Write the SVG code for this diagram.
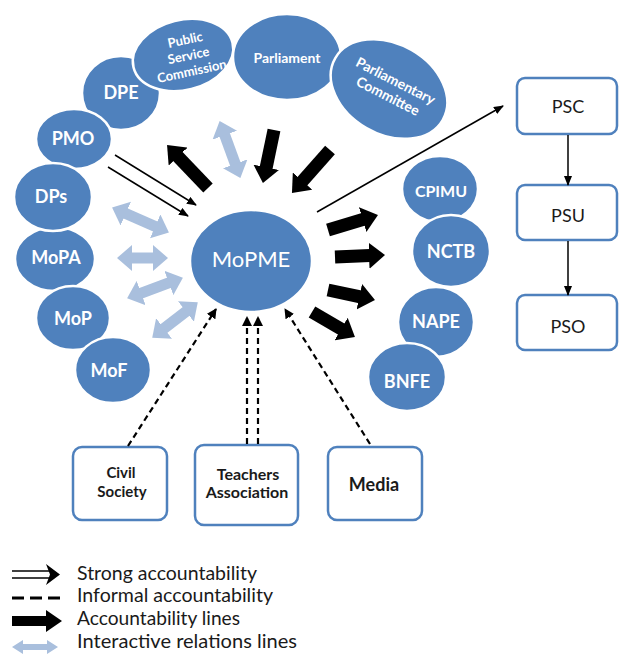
<svg xmlns="http://www.w3.org/2000/svg" width="619" height="657" viewBox="0 0 619 657">
<style>
.c{fill:#4f81bd;stroke:#ffffff;stroke-width:2.5}
.lb{font-family:Lato,"Open Sans","Liberation Sans",sans-serif;font-weight:700;fill:#ffffff;text-anchor:middle}
.bx{fill:#ffffff;stroke:#4f81bd;stroke-width:2.5}
.bt{font-family:Lato,"Open Sans","Liberation Sans",sans-serif;fill:#1a1a1a;text-anchor:middle}
.thick{stroke:#000;stroke-width:13;marker-end:url(#hB)}
.light{stroke:#a9bfdd;stroke-width:11;marker-start:url(#hL);marker-end:url(#hL)}
.thin{stroke:#000;stroke-width:1.5;marker-end:url(#hT)}
.dash{stroke:#000;stroke-width:2.2;stroke-dasharray:6 4;marker-end:url(#hD)}
.lg{font-family:Lato,"Open Sans","Liberation Sans",sans-serif;font-size:20px;fill:#1a1a1a}
</style>
<defs>
<marker id="hB" markerUnits="userSpaceOnUse" markerWidth="16" markerHeight="26" viewBox="0 0 16 26" refX="1" refY="13" orient="auto"><path d="M0,0 L16,13 L0,26 Z" fill="#000"/></marker>
<marker id="hL" markerUnits="userSpaceOnUse" markerWidth="15" markerHeight="26" viewBox="0 0 15 26" refX="2" refY="13" orient="auto-start-reverse"><path d="M0,0 L15,13 L0,26 Z" fill="#a9bfdd"/></marker>
<marker id="hT" markerUnits="userSpaceOnUse" markerWidth="10" markerHeight="8" viewBox="0 0 10 8" refX="9" refY="4" orient="auto"><path d="M0,0 L10,4 L0,8 Z" fill="#000"/></marker>
<marker id="hD" markerUnits="userSpaceOnUse" markerWidth="10" markerHeight="10" viewBox="0 0 10 10" refX="9" refY="5" orient="auto"><path d="M0,0 L10,5 L0,10 Z" fill="#000"/></marker>
</defs>
<rect width="619" height="657" fill="#ffffff"/>

<g id="n-dpe"><ellipse class="c" cx="121" cy="93" rx="39" ry="37"/><text class="lb" x="121" y="99" font-size="18">DPE</text></g>
<g id="n-psc-commission"><ellipse class="c" cx="183" cy="55" rx="51" ry="35" transform="rotate(-14 183 55)"/><g transform="rotate(-12 189 58)"><text class="lb" x="189" y="44" font-size="13">Public</text><text class="lb" x="189" y="60" font-size="13">Service</text><text class="lb" x="189" y="76" font-size="13">Commission</text></g></g>
<g id="n-parliament"><ellipse class="c" cx="287" cy="57" rx="54" ry="43"/><text class="lb" x="287" y="63" font-size="14">Parliament</text></g>
<g id="n-parl-committee"><ellipse class="c" cx="389" cy="89" rx="62" ry="45" transform="rotate(30 389 89)"/><g transform="rotate(27 392 88)"><text class="lb" x="392" y="85" font-size="14">Parliamentary</text><text class="lb" x="392" y="102" font-size="14">Committee</text></g></g>
<g id="n-pmo"><ellipse class="c" cx="74" cy="139" rx="38" ry="30"/><text class="lb" x="73" y="145" font-size="18">PMO</text></g>
<g id="n-mopa"><ellipse class="c" cx="55" cy="259" rx="40" ry="32"/><text class="lb" x="56" y="264" font-size="18">MoPA</text></g>
<g id="n-dps"><ellipse class="c" cx="53" cy="197" rx="39" ry="34"/><text class="lb" x="51" y="203" font-size="18">DPs</text></g>
<g id="n-mop"><ellipse class="c" cx="73" cy="318" rx="37" ry="32"/><text class="lb" x="73" y="325" font-size="18">MoP</text></g>
<g id="n-mof"><ellipse class="c" cx="113" cy="370" rx="38" ry="33"/><text class="lb" x="109" y="377" font-size="18">MoF</text></g>
<g id="n-cpimu"><ellipse class="c" cx="440" cy="189" rx="38" ry="33"/><text class="lb" x="441" y="197" font-size="16">CPIMU</text></g>
<g id="n-nctb"><ellipse class="c" cx="451" cy="251" rx="39" ry="36"/><text class="lb" x="451" y="258" font-size="18">NCTB</text></g>
<g id="n-nape"><ellipse class="c" cx="436" cy="322" rx="38" ry="35"/><text class="lb" x="436" y="328" font-size="18">NAPE</text></g>
<g id="n-bnfe"><ellipse class="c" cx="407" cy="377" rx="39" ry="34"/><text class="lb" x="407" y="388" font-size="18">BNFE</text></g>
<g id="n-mopme"><ellipse class="c" cx="251" cy="261" rx="61" ry="51"/><text x="251" y="267" font-family="Lato,'Open Sans','Liberation Sans',sans-serif" font-size="22" fill="#ffffff" text-anchor="middle">MoPME</text></g>

<g id="n-psc"><rect class="bx" x="517" y="78" width="100" height="56" rx="8"/><text class="bt" x="568" y="113" font-size="18">PSC</text></g>
<g id="n-psu"><rect class="bx" x="517" y="185" width="100" height="55" rx="8"/><text class="bt" x="568" y="222" font-size="18">PSU</text></g>
<g id="n-pso"><rect class="bx" x="517" y="295" width="100" height="55" rx="8"/><text class="bt" x="568" y="333" font-size="18">PSO</text></g>

<g id="n-civil"><rect class="bx" x="73" y="447" width="94" height="73" rx="9"/><text class="bt" x="121" y="478" font-size="15" font-weight="700">Civil</text><text class="bt" x="122" y="497" font-size="15" font-weight="700">Society</text></g>
<g id="n-teachers"><rect class="bx" x="195" y="445" width="103" height="80" rx="9"/><text class="bt" x="248" y="480" font-size="16" font-weight="700">Teachers</text><text class="bt" x="247" y="498" font-size="16" font-weight="700">Association</text></g>
<g id="n-media"><rect class="bx" x="328" y="447" width="94" height="73" rx="9"/><text class="bt" x="374" y="491" font-size="18" font-weight="700">Media</text></g>

<g id="connectors" fill="none">
<line class="thick" x1="208" y1="188" x2="177.4" y2="155.9"/>
<line class="thick" x1="274" y1="130" x2="266" y2="168.3"/>
<line class="thick" x1="330" y1="150" x2="301.9" y2="181.8"/>
<line class="thick" x1="328" y1="230" x2="363.6" y2="219.3"/>
<line class="thick" x1="335" y1="257" x2="370" y2="255.6"/>
<line class="thick" x1="328" y1="290" x2="360.3" y2="296.9"/>
<line class="thick" x1="312" y1="312" x2="342" y2="329.5"/>

<line class="light" x1="224.1" y1="133.3" x2="235.9" y2="165.7"/>
<line class="light" x1="124" y1="212.8" x2="157" y2="227.2"/>
<line class="light" x1="130" y1="258" x2="155" y2="258"/>
<line class="light" x1="139.3" y1="293.8" x2="170.7" y2="282.2"/>
<line class="light" x1="162.5" y1="329.7" x2="187.5" y2="310.3"/>

<line class="thin" x1="115" y1="155" x2="196" y2="205"/>
<line class="thin" x1="108" y1="167" x2="188" y2="216"/>
<line class="thin" x1="317" y1="212" x2="503" y2="106"/>
<line class="thin" x1="568" y1="135" x2="568" y2="185"/>
<line class="thin" x1="568" y1="241" x2="568" y2="295"/>

<line class="dash" x1="128" y1="446" x2="216" y2="309"/>
<line class="dash" x1="247" y1="444" x2="247" y2="317"/>
<line class="dash" x1="258" y1="444" x2="258" y2="317"/>
<line class="dash" x1="370" y1="444" x2="285" y2="309"/>
</g>

<g id="legend">
<line x1="12" y1="571" x2="50" y2="571" stroke="#000" stroke-width="1.6"/>
<line x1="12" y1="578" x2="50" y2="578" stroke="#000" stroke-width="1.6"/>
<polygon points="46,564 60,574.5 46,585 50,574.5" fill="#000"/>
<text class="lg" x="77" y="580" textLength="180" lengthAdjust="spacingAndGlyphs">Strong accountability</text>
<line x1="12" y1="598" x2="60" y2="598" stroke="#000" stroke-width="3" stroke-dasharray="12 6"/>
<text class="lg" x="77" y="602" textLength="196" lengthAdjust="spacingAndGlyphs">Informal accountability</text>
<polygon points="12,616 46,616 46,610 62,621 46,632 46,626 12,626" fill="#000"/>
<text class="lg" x="77" y="625" textLength="163" lengthAdjust="spacingAndGlyphs">Accountability lines</text>
<polygon points="12,647 23,640 23,644 47,644 47,640 58,647 47,654 47,650 23,650 23,654" fill="#a9bfdd"/>
<text class="lg" x="77" y="648" textLength="220" lengthAdjust="spacingAndGlyphs">Interactive relations lines</text>
</g>
</svg>
